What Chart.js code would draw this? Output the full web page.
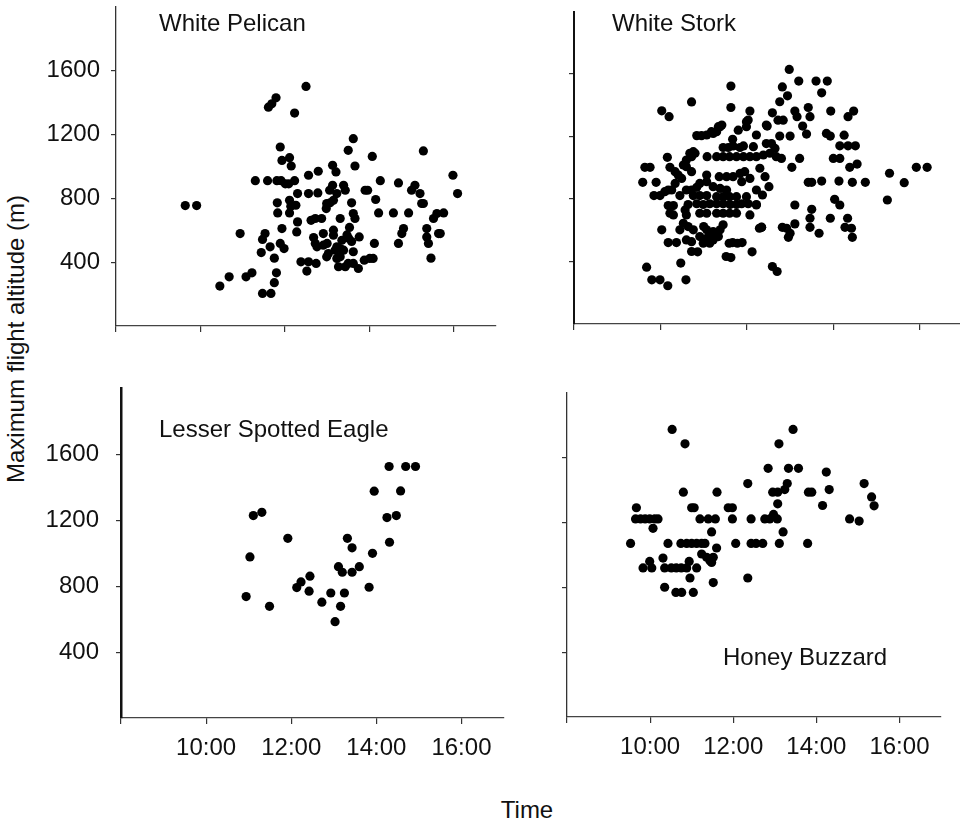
<!DOCTYPE html>
<html>
<head>
<meta charset="utf-8">
<script src="https://cdn.jsdelivr.net/npm/chart.js@4/dist/chart.umd.min.js"></script>
<style>
  body { margin: 0; background: #fff; overflow: hidden; }
  #fig { position: relative; width: 960px; height: 825px; overflow: hidden; }
  canvas { position: absolute; }
  .lbl { position: absolute; font: 24px/24px 'Liberation Sans', Arial, Helvetica, sans-serif; color: #111; white-space: nowrap; }
</style>
</head>
<body>
<div id="fig">
  <canvas id="pelican"></canvas>
  <canvas id="stork"></canvas>
  <canvas id="eagle"></canvas>
  <canvas id="buzzard"></canvas>
  <div class="lbl" style="left:159px;top:11px">White Pelican</div>
  <div class="lbl" style="left:612px;top:11px">White Stork</div>
  <div class="lbl" style="left:159px;top:417px">Lesser Spotted Eagle</div>
  <div class="lbl" style="left:723px;top:645px">Honey Buzzard</div>
  <div class="lbl" style="left:16px;top:339px;transform:translate(-50%,-50%) rotate(-90deg)">Maximum flight altitude (m)</div>
  <div class="lbl" style="left:527px;top:798px;transform:translateX(-50%)">Time</div>
</div>
<script>
// Axis ticks (time in decimal hours, altitude in m)
const xTickValues = [8, 10, 12, 14, 16];
const xTickLabels = ['', '10:00', '12:00', '14:00', '16:00'];
const yTickValues = [400, 800, 1200, 1600];

// White Pelican
const pelicanTime = [9.64, 9.91, 10.46, 10.68, 10.94, 11.08, 11.22, 11.30, 11.44, 11.53, 11.47, 11.47, 11.67,
  11.61, 11.69, 11.79, 11.65, 11.59, 11.75, 11.80, 11.75, 11.81, 11.91, 12.01, 12.09, 12.23, 11.89, 11.93,
  12.11, 12.15, 11.82, 11.83, 11.93, 11.89, 11.98, 12.11, 12.14, 12.11, 12.26, 12.30, 12.30, 12.28, 12.23,
  12.50, 12.56, 12.79, 12.56, 12.78, 12.62, 12.72, 12.87, 12.68, 12.72, 12.76, 12.38, 12.56, 12.74, 12.52,
  12.91, 13.00, 13.03, 12.99, 13.13, 13.21, 13.13, 13.06, 13.23, 12.99, 13.07, 12.98, 13.15, 13.15, 13.15,
  13.31, 13.39, 13.43, 13.35, 13.23, 13.31, 13.39, 13.31, 13.23, 13.27, 13.43, 13.50, 13.62, 13.66, 13.58,
  13.62, 13.66, 13.53, 13.47, 13.51, 13.58, 13.76, 13.62, 13.50, 13.62, 13.74, 13.88, 14.01, 14.09, 13.90,
  13.96, 14.07, 14.15, 14.26, 14.22, 14.12, 14.57, 14.69, 14.93, 14.81, 14.77, 14.69, 15.00, 15.08, 15.20,
  15.24, 15.28, 15.28, 15.36, 15.36, 15.40, 15.46, 15.52, 15.60, 15.76, 15.64, 15.68, 15.98, 16.09,
  12.91, 13.19];
const pelicanAlt = [754, 754, 250, 308, 579, 308, 333, 910, 460, 579, 542, 204, 204,
  1370, 1391, 1429, 496, 910, 425, 333, 271, 910, 910, 890, 890, 910, 1121, 1037,
  1054, 1002, 771, 708, 610, 517, 485, 787, 750, 708, 756, 829, 652, 589, 1333,
  1500, 944, 969, 829, 833, 662, 673, 673, 554, 517, 496, 402, 402, 392, 344,
  579, 517, 454, 433, 1006, 965, 881, 850, 829, 767, 771, 735, 787, 600, 569,
  673, 881, 850, 537, 496, 485, 475, 433, 423, 371, 371, 1100, 1173, 1002, 771,
  704, 673, 617, 570, 550, 529, 558, 465, 392, 392, 360, 412, 423, 423, 850,
  850, 1062, 792, 910, 708, 517, 708, 896, 708, 610, 579, 517, 850, 881, 829,
  767, 767, 1096, 610, 558, 517, 425, 673, 704, 708, 579, 579, 944, 829,
  506, 475];

// White Stork
const storkTime = [11.63, 10.72, 10.03, 10.20, 11.63, 12.07, 12.03, 11.99, 11.80, 11.38, 11.30, 11.22,
  10.84, 10.95, 11.07, 11.18, 11.67, 11.45, 11.57, 11.68, 11.84, 11.92, 12.15, 11.30, 11.45, 11.60,
  11.76, 11.92, 12.07, 12.22, 11.08, 10.80, 10.72, 10.60, 10.53, 10.16, 9.64, 9.76, 10.22, 10.34,
  10.41, 10.49, 10.60, 10.72, 9.59, 9.90, 10.34, 10.26, 11.07, 11.07, 10.91, 10.84, 10.72, 10.60,
  11.22, 11.38, 11.53, 11.68, 11.84, 11.95, 12.07, 11.53, 11.88, 9.85, 9.99, 10.10, 10.18, 10.45,
  10.76, 10.91, 11.07, 11.30, 11.45, 11.60, 11.76, 11.99, 12.22, 10.18, 10.30, 10.64, 10.84, 10.99,
  11.14, 11.30, 11.45, 11.61, 11.76, 11.88, 12.03, 12.22, 10.22, 10.30, 10.57, 10.60, 10.91, 11.07,
  11.30, 11.45, 11.60, 11.76, 12.07, 10.03, 10.45, 10.53, 10.64, 10.76, 11.00, 11.07, 11.14, 11.22,
  11.30, 11.38, 11.45, 10.91, 11.07, 11.22, 11.34, 10.99, 11.14, 10.18, 10.37, 10.60, 10.72, 10.86,
  11.67, 11.89, 12.12, 11.63, 12.29, 9.68, 10.47, 9.80, 9.99, 10.17, 10.59, 12.59, 12.70,
  11.34, 11.42, 11.99, 12.22, 12.45, 10.68, 10.76, 11.36, 12.34, 11.59, 11.78, 11.52, 10.72, 12.22,
  12.98, 13.20, 13.60, 13.86, 13.73, 12.82, 12.94, 12.76, 12.59, 13.11, 13.16, 13.42, 13.46, 13.94,
  14.47, 14.34, 12.72, 12.84, 12.47, 13.29, 13.38, 13.00, 12.76, 13.84, 13.93, 14.25, 14.15, 14.34,
  14.51, 12.45, 12.57, 12.65, 12.38, 12.53, 12.68, 12.80, 13.22, 14.00, 14.15, 13.04, 14.38, 14.55,
  12.30, 12.42, 13.42, 13.50, 13.73, 14.13, 14.44, 14.74, 15.30, 15.92, 16.17, 15.64, 15.25, 12.36,
  12.51, 13.11, 13.50, 14.03, 14.15, 13.46, 13.93, 14.33, 13.11, 12.82, 12.92, 13.00, 12.96, 13.46,
  13.67, 14.27, 14.42, 14.44, 12.34];
const storkAlt = [1523, 1422, 1365, 1327, 1386, 1363, 1306, 1263, 1241, 1263, 1231, 1220,
  1206, 1206, 1210, 1231, 1182, 1130, 1130, 1140, 1130, 1140, 1135, 1071, 1071, 1071,
  1071, 1071, 1071, 1071, 1071, 1093, 1071, 1050, 1018, 1067, 1003, 1003, 1003, 975,
  954, 932, 1007, 975, 907, 907, 900, 858, 954, 911, 900, 875, 858, 858,
  879, 868, 858, 943, 964, 975, 932, 943, 911, 822, 822, 847, 858, 822,
  822, 822, 822, 815, 815, 815, 815, 815, 858, 758, 758, 765, 770, 765,
  770, 770, 770, 765, 765, 770, 770, 765, 709, 698, 730, 698, 709, 709,
  709, 709, 709, 709, 698, 603, 603, 645, 624, 603, 624, 603, 581, 592,
  570, 603, 635, 560, 549, 538, 560, 517, 517, 521, 521, 538, 527, 462,
  521, 521, 462, 425, 613, 364, 390, 283, 283, 245, 283, 368, 336,
  1263, 1274, 1295, 1210, 1274, 1093, 1103, 943, 620, 517, 517, 432, 464, 762,
  1630, 1555, 1555, 1555, 1480, 1518, 1461, 1423, 1352, 1363, 1327, 1386, 1327, 1363,
  1363, 1327, 1305, 1305, 1267, 1267, 1216, 1203, 1203, 1220, 1203, 1209, 1141, 1141,
  1141, 1155, 1155, 1124, 1082, 1093, 1071, 1060, 1060, 1060, 1060, 1003, 1003, 1024,
  997, 943, 907, 907, 915, 915, 907, 907, 965, 1003, 1003, 905, 794, 826,
  879, 762, 734, 798, 762, 677, 677, 677, 641, 619, 613, 581, 555, 619,
  581, 619, 613, 555, 619];

// Lesser Spotted Eagle
const eagleTime = [10.94, 11.03, 11.11, 11.31, 11.49, 11.92, 12.13, 12.23, 12.44, 12.42, 12.72, 12.93,
  13.03, 13.16, 13.11, 13.20, 13.25, 13.32, 13.43, 13.43, 13.60, 13.83, 13.91, 13.95, 14.25, 14.31,
  14.30, 14.47, 14.57, 14.69, 14.92];
const eagleAlt = [737, 978, 1229, 1249, 678, 1091, 792, 826, 861, 770, 703, 759,
  585, 678, 919, 885, 759, 1091, 1033, 885, 919, 794, 1000, 1377, 1217, 1067,
  1527, 1229, 1379, 1527, 1527];

// Honey Buzzard
const buzzardTime = [9.53, 9.67, 9.65, 9.77, 9.88, 9.99, 10.11, 10.19, 10.07, 9.83, 9.99, 10.04, 10.31,
  10.35, 10.51, 10.63, 10.75, 10.88, 10.43, 10.74, 10.88, 11.00, 11.12, 11.24, 11.32, 10.94, 11.12,
  10.96, 10.35, 10.62, 10.76, 11.04, 10.53, 10.84, 10.80, 11.00, 11.06, 11.20, 11.40, 11.57, 11.48,
  11.24, 11.36, 11.44, 11.52, 11.60, 11.48, 11.52, 11.61, 11.88, 11.98, 11.98, 12.06, 12.35, 12.35,
  12.43, 12.43, 12.55, 12.71, 12.84, 12.76, 12.88, 12.97, 13.06, 12.95, 13.07, 13.07, 13.10, 13.11,
  13.20, 13.24, 13.30, 13.33, 13.57, 13.44, 13.81, 13.89, 13.79, 14.15, 14.24, 14.31, 14.80, 15.03,
  15.15, 15.33, 15.39];
const buzzardAlt = [1070, 1290, 1221, 1221, 1221, 1221, 1221, 1221, 1163, 919, 959, 919, 980,
  919, 919, 919, 919, 919, 1070, 1070, 1070, 1070, 1070, 1070, 1070, 959, 919,
  857, 800, 768, 768, 768, 1773, 1684, 1386, 1290, 1290, 1221, 1221, 1221, 1141,
  1005, 985, 964, 985, 1042, 953, 829, 1386, 1290, 1290, 1221, 1070, 1439, 857,
  1221, 1070, 1070, 1070, 1533, 1221, 1221, 1249, 1221, 1386, 1386, 1314, 1684, 1070,
  1141, 1402, 1439, 1533, 1533, 1773, 1386, 1386, 1070, 1304, 1510, 1402, 1221, 1208,
  1439, 1357, 1302];

const family = "'Liberation Sans', Arial, Helvetica, sans-serif";

// keep the plot box exactly where we put it (no extra room for overflowing labels)
function noPadding(ax) {
  ax.paddingTop = 0;
  ax.paddingBottom = 0;
  ax.paddingLeft = 0;
  ax.paddingRight = 0;
}

// one scatter panel; area = pixel box of the plot (axis lines) on the page
function makePanel(id, area, times, alts, opt) {
  const padT = 4, padR = 8;
  const cv = document.getElementById(id);
  const w = area.right - area.left + opt.padL + padR;
  const h = area.bottom - area.top + padT + opt.padB;
  cv.width = w;
  cv.height = h;
  cv.style.left = (area.left - opt.padL) + 'px';
  cv.style.top = (area.top - padT) + 'px';
  cv.style.width = w + 'px';
  cv.style.height = h + 'px';

  return new Chart(cv, {
    type: 'scatter',
    data: {
      datasets: [{
        data: times.map((t, i) => ({ x: t, y: alts[i] })),
        backgroundColor: '#000',
        borderWidth: 0,
        pointRadius: 4.6,
        pointHoverRadius: 4.6
      }]
    },
    options: {
      responsive: false,
      animation: false,
      events: [],
      layout: { padding: { left: 0, top: padT, right: padR, bottom: 0 } },
      plugins: { legend: { display: false }, tooltip: { enabled: false } },
      scales: {
        x: {
          type: 'linear',
          min: 8,
          max: 17,
          afterBuildTicks: ax => { ax.ticks = xTickValues.map(v => ({ value: v })); },
          afterFit: ax => { ax.height = opt.padB; noPadding(ax); },
          grid: { drawOnChartArea: false, drawTicks: true, tickLength: 6, color: '#333', lineWidth: 1.2 },
          border: { display: true, color: opt.xColor, width: opt.xWidth },
          ticks: {
            display: opt.xLabels,
            autoSkip: false,
            maxRotation: 0,
            padding: 10,
            color: '#111',
            font: { family: family, size: 24 },
            callback: (v, i) => xTickLabels[i]
          }
        },
        y: {
          min: 0,
          max: 2000,
          afterBuildTicks: ax => { ax.ticks = yTickValues.map(v => ({ value: v })); },
          afterFit: ax => { ax.width = opt.padL; noPadding(ax); },
          grid: { drawOnChartArea: false, drawTicks: true, tickLength: 5, color: '#333', lineWidth: 1.2 },
          border: { display: true, color: opt.yColor, width: opt.yWidth },
          ticks: {
            display: opt.yLabels,
            padding: opt.yPad,
            color: '#111',
            font: { family: family, size: 24 },
            callback: v => String(v)
          }
        }
      }
    }
  });
}

makePanel('pelican', { left: 116, top: 6, right: 496, bottom: 326 }, pelicanTime, pelicanAlt,
  { padL: 80, padB: 10, xLabels: false, yLabels: true, yPad: 11, xColor: '#444', xWidth: 1.3, yColor: '#333', yWidth: 1.3 });
makePanel('stork', { left: 574, top: 11, right: 963, bottom: 324 }, storkTime, storkAlt,
  { padL: 12, padB: 10, xLabels: false, yLabels: false, yPad: 0, xColor: '#444', xWidth: 1.3, yColor: '#111', yWidth: 2 });
makePanel('eagle', { left: 121, top: 388, right: 504, bottom: 718 }, eagleTime, eagleAlt,
  { padL: 84, padB: 50, xLabels: true, yLabels: true, yPad: 17, xColor: '#444', xWidth: 1.3, yColor: '#111', yWidth: 2.5 });
makePanel('buzzard', { left: 567, top: 392, right: 941, bottom: 717 }, buzzardTime, buzzardAlt,
  { padL: 12, padB: 50, xLabels: true, yLabels: false, yPad: 0, xColor: '#444', xWidth: 1.3, yColor: '#333', yWidth: 1.3 });
</script>
</body>
</html>
